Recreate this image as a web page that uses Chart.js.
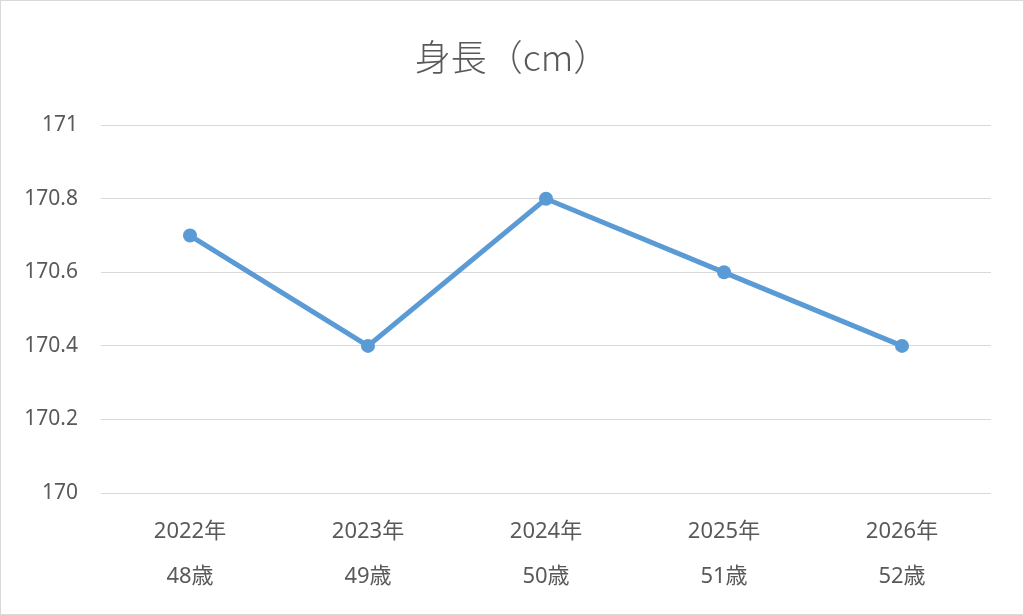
<!DOCTYPE html>
<html>
<head>
<meta charset="utf-8">
<script src="https://cdn.jsdelivr.net/npm/chart.js@4"></script>
<style>
html,body{margin:0;padding:0;background:#fff;}
#wrap{position:absolute;left:0;top:0;width:1022px;height:613px;border:1px solid #d9d9d9;}
canvas{display:block;}
</style>
</head>
<body>
<div id="wrap"><canvas id="c" width="1022" height="613"></canvas></div>
<script>
const titleText = '身長（cm）';
const years = ['2022年','2023年','2024年','2025年','2026年'];
const ages = ['48歳','49歳','50歳','51歳','52歳'];
const heights = [170.7, 170.4, 170.8, 170.6, 170.4];
const yMin = 170, yMax = 171, yStep = 0.2;

const labels = years.map((y,i)=>[y, ages[i]]);
const fam = "'Noto Sans', 'Noto Sans CJK JP', sans-serif";
const txt = '#595959';

new Chart(document.getElementById('c'), {
  type: 'line',
  data: {
    labels: labels,
    datasets: [{
      data: heights,
      borderColor: '#5B9BD5',
      backgroundColor: '#5B9BD5',
      borderWidth: 5,
      pointRadius: 7,
      pointHoverRadius: 7,
      pointBorderWidth: 0,
      tension: 0
    }]
  },
  options: {
    responsive: false,
    animation: false,
    layout: { padding: { left: 0, right: 0, top: 0, bottom: 0 } },
    plugins: {
      legend: { display: false },
      tooltip: { enabled: false },
      title: {
        display: true,
        text: titleText,
        color: txt,
        font: { family: "'Noto Sans CJK JP', sans-serif", size: 36, weight: 300, lineHeight: 1.2 },
        padding: { top: 35, bottom: 46 }
      }
    },
    scales: {
      x: {
        offset: true,
        grid: { display: false, drawTicks: false },
        border: { display: false },
        ticks: {
          color: txt,
          font: { family: fam, size: 22, lineHeight: 2.05 },
          padding: 16,
          maxRotation: 0
        },
        afterFit: s => { s.height = 121; s.paddingRight = 32; }
      },
      y: {
        min: yMin, max: yMax,
        grid: { color: '#d9d9d9', lineWidth: 1, drawTicks: false },
        border: { display: false },
        ticks: {
          stepSize: yStep,
          color: txt,
          font: { family: fam, size: 21 },
          padding: 23,
          callback: v => String(Number(v.toFixed(1)))
        },
        afterFit: s => { s.width = 100; }
      }
    }
  }
});
</script>
</body>
</html>
